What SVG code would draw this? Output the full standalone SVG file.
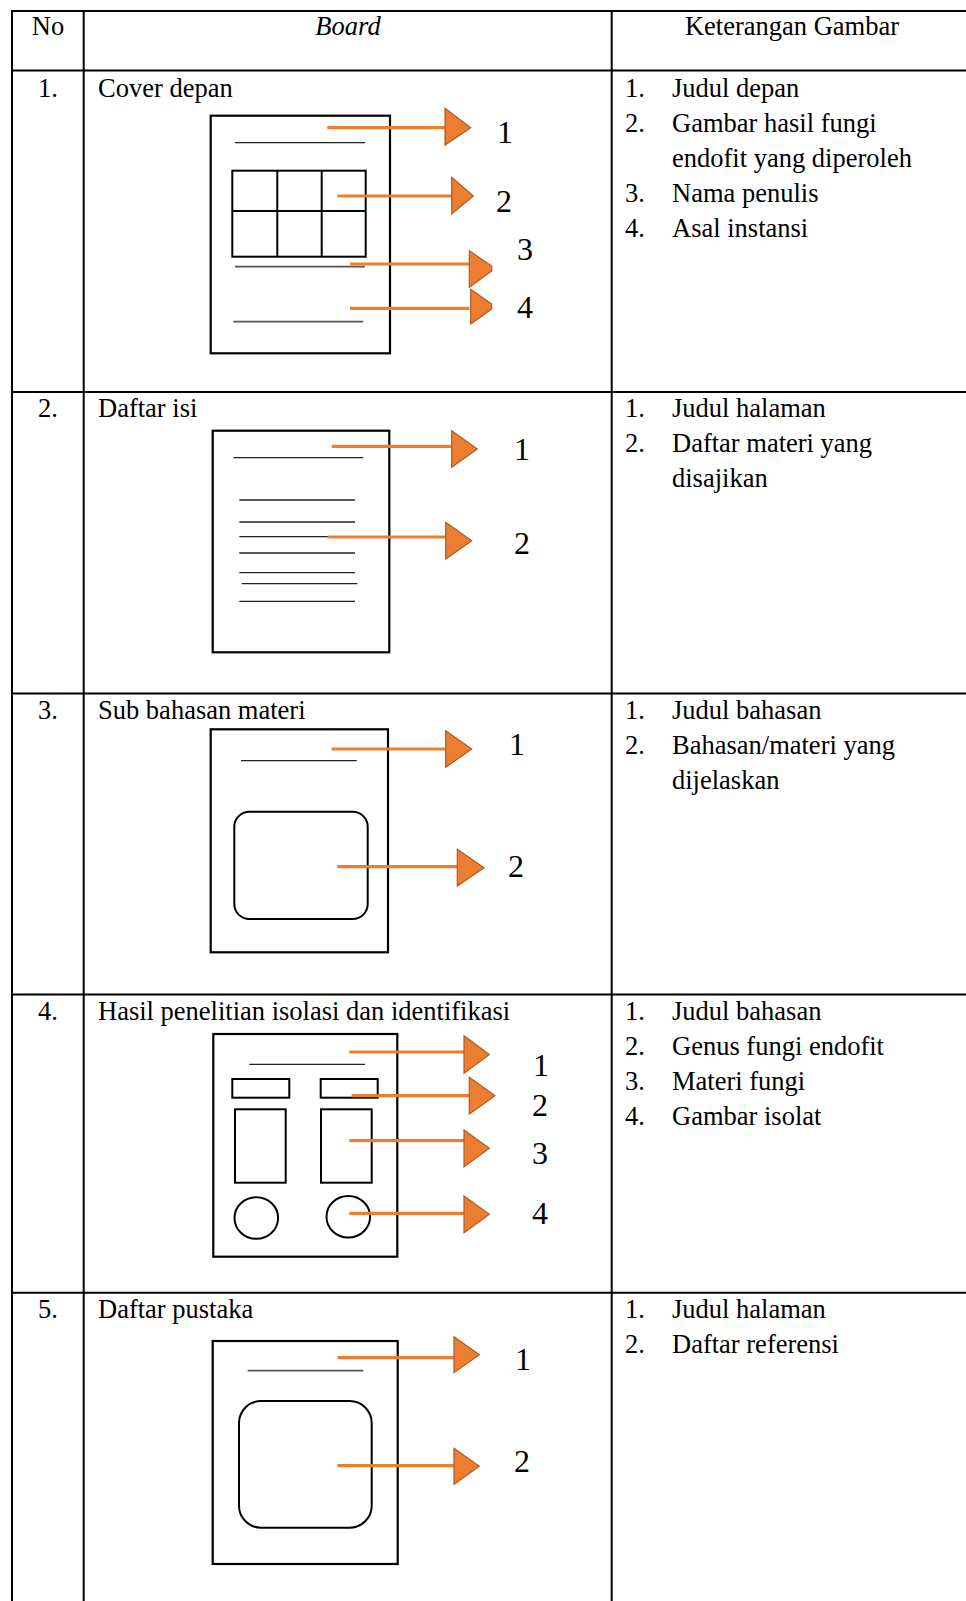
<svg xmlns="http://www.w3.org/2000/svg" width="966" height="1601" viewBox="0 0 966 1601">
  <style>
    .grid { stroke: #000; stroke-width: 2; fill: none; }
    .t { font-family: "Liberation Serif", "Times New Roman", serif; font-size: 26.5px; fill: #000; }
    .it { font-style: italic; }
    .num { font-family: "Liberation Serif", "Times New Roman", serif; font-size: 32px; fill: #000; }
    .page { fill: #fff; stroke: #000; stroke-width: 2.2; }
    .box { fill: none; stroke: #000; stroke-width: 2; }
    .rule { stroke: #222; stroke-width: 1.3; }
    .rule2 { stroke: #555; stroke-width: 1.8; }
    .shaft { stroke: #ED7D31; stroke-width: 3.2; }
    .head { fill: #ED7D31; stroke: #B05C22; stroke-width: 1.2; }
  </style>

  <rect width="966" height="1601" fill="#fff"/>

  <!-- table grid -->
  <g id="table">
    <line class="grid" x1="11" y1="11" x2="966" y2="11"/>
    <line class="grid" x1="11" y1="70.5" x2="966" y2="70.5"/>
    <line class="grid" x1="11" y1="392" x2="966" y2="392"/>
    <line class="grid" x1="11" y1="693.5" x2="966" y2="693.5"/>
    <line class="grid" x1="11" y1="994.5" x2="966" y2="994.5"/>
    <line class="grid" x1="11" y1="1292.7" x2="966" y2="1292.7"/>
    <line class="grid" x1="12" y1="10" x2="12" y2="1601"/>
    <line class="grid" x1="83.7" y1="10" x2="83.7" y2="1601"/>
    <line class="grid" x1="611.7" y1="10" x2="611.7" y2="1601"/>
  </g>

  <!-- header -->
  <g id="header">
    <text class="t" x="48" y="35" text-anchor="middle">No</text>
    <text class="t it" x="348" y="35" text-anchor="middle">Board</text>
    <text class="t" x="792" y="35" text-anchor="middle">Keterangan Gambar</text>
  </g>

  <!-- row 1: Cover depan -->
  <g id="row1">
    <text class="t" x="38" y="96.5">1.</text>
    <text class="t" x="98" y="96.5">Cover depan</text>
    <g class="t">
      <text x="625" y="96.5">1.</text><text x="672" y="96.5">Judul depan</text>
      <text x="625" y="131.7">2.</text><text x="672" y="131.7">Gambar hasil fungi</text>
      <text x="672" y="166.9">endofit yang diperoleh</text>
      <text x="625" y="202.1">3.</text><text x="672" y="202.1">Nama penulis</text>
      <text x="625" y="237.3">4.</text><text x="672" y="237.3">Asal instansi</text>
    </g>
  </g>
  <g id="board1">
    <rect class="page" x="210.7" y="115.7" width="179.3" height="237.6"/>
    <line class="rule" x1="235" y1="142.7" x2="365" y2="142.7"/>
    <rect class="box" x="232.3" y="170.7" width="133.4" height="86"/>
    <line class="box" x1="277.3" y1="170.7" x2="277.3" y2="256.7"/>
    <line class="box" x1="321.7" y1="170.7" x2="321.7" y2="256.7"/>
    <line class="box" x1="232.3" y1="211" x2="365.7" y2="211"/>
    <line class="rule2" x1="235" y1="266.7" x2="365" y2="266.7"/>
    <line class="rule2" x1="233.3" y1="321.7" x2="363.3" y2="321.7"/>
    <text class="num" x="497" y="143">1</text>
    <text class="num" x="496" y="211.5">2</text>
    <text class="num" x="517" y="260">3</text>
    <text class="num" x="517" y="318">4</text>
  </g>

  <!-- row 2: Daftar isi -->
  <g id="row2">
    <text class="t" x="38" y="417">2.</text>
    <text class="t" x="98" y="417">Daftar isi</text>
    <g class="t">
      <text x="625" y="417">1.</text><text x="672" y="417">Judul halaman</text>
      <text x="625" y="452.2">2.</text><text x="672" y="452.2">Daftar materi yang</text>
      <text x="672" y="487.4">disajikan</text>
    </g>
  </g>
  <g id="board2">
    <rect class="page" x="212.7" y="430.7" width="176.6" height="221.6"/>
    <line class="rule" x1="233.3" y1="457.7" x2="363.3" y2="457.7"/>
    <line class="rule" x1="239.3" y1="500" x2="355" y2="500"/>
    <line class="rule" x1="239.3" y1="522" x2="355" y2="522"/>
    <line class="rule" x1="239.3" y1="536.7" x2="355" y2="536.7"/>
    <line class="rule" x1="239.3" y1="553" x2="355" y2="553"/>
    <line class="rule" x1="239.3" y1="572.7" x2="355" y2="572.7"/>
    <line class="rule" x1="241.7" y1="583.7" x2="357.3" y2="583.7"/>
    <line class="rule" x1="239.3" y1="601.3" x2="355" y2="601.3"/>
    <text class="num" x="514" y="460">1</text>
    <text class="num" x="514" y="554.3">2</text>
  </g>

  <!-- row 3: Sub bahasan materi -->
  <g id="row3">
    <text class="t" x="38" y="718.5">3.</text>
    <text class="t" x="98" y="718.5">Sub bahasan materi</text>
    <g class="t">
      <text x="625" y="718.5">1.</text><text x="672" y="718.5">Judul bahasan</text>
      <text x="625" y="753.7">2.</text><text x="672" y="753.7">Bahasan/materi yang</text>
      <text x="672" y="788.9">dijelaskan</text>
    </g>
  </g>
  <g id="board3">
    <rect class="page" x="210.7" y="729.3" width="177.3" height="223"/>
    <line class="rule" x1="241" y1="760.7" x2="356.7" y2="760.7"/>
    <rect class="box" x="234.3" y="811.7" width="133.4" height="107.3" rx="15" ry="15"/>
    <text class="num" x="509" y="755">1</text>
    <text class="num" x="508" y="876.7">2</text>
  </g>

  <!-- row 4: Hasil penelitian isolasi dan identifikasi -->
  <g id="row4">
    <text class="t" x="38" y="1019.5">4.</text>
    <text class="t" x="98" y="1019.5">Hasil penelitian isolasi dan identifikasi</text>
    <g class="t">
      <text x="625" y="1019.5">1.</text><text x="672" y="1019.5">Judul bahasan</text>
      <text x="625" y="1054.7">2.</text><text x="672" y="1054.7">Genus fungi endofit</text>
      <text x="625" y="1089.9">3.</text><text x="672" y="1089.9">Materi fungi</text>
      <text x="625" y="1125.1">4.</text><text x="672" y="1125.1">Gambar isolat</text>
    </g>
  </g>
  <g id="board4">
    <rect class="page" x="213.3" y="1034" width="184" height="222.7"/>
    <line class="rule" x1="249.3" y1="1064.3" x2="365" y2="1064.3"/>
    <rect class="box" x="232.3" y="1079" width="57" height="18.7"/>
    <rect class="box" x="320.7" y="1079" width="57" height="18.7"/>
    <rect class="box" x="235" y="1109.3" width="50.7" height="73.4"/>
    <rect class="box" x="321" y="1109.3" width="50.7" height="73.4"/>
    <ellipse class="box" cx="256.3" cy="1218" rx="21.8" ry="20.8"/>
    <ellipse class="box" cx="348.3" cy="1216.7" rx="21.8" ry="20.8"/>
    <text class="num" x="533" y="1076">1</text>
    <text class="num" x="532" y="1116">2</text>
    <text class="num" x="532" y="1164">3</text>
    <text class="num" x="532" y="1224">4</text>
  </g>

  <!-- row 5: Daftar pustaka -->
  <g id="row5">
    <text class="t" x="38" y="1317.7">5.</text>
    <text class="t" x="98" y="1317.7">Daftar pustaka</text>
    <g class="t">
      <text x="625" y="1317.7">1.</text><text x="672" y="1317.7">Judul halaman</text>
      <text x="625" y="1352.9">2.</text><text x="672" y="1352.9">Daftar referensi</text>
    </g>
  </g>
  <g id="board5">
    <rect class="page" x="212.7" y="1341" width="185" height="223"/>
    <line class="rule2" x1="247.7" y1="1370.7" x2="363.3" y2="1370.7"/>
    <rect class="box" x="239" y="1401" width="132.7" height="126.7" rx="22" ry="22"/>
    <text class="num" x="515" y="1370">1</text>
    <text class="num" x="514" y="1471.7">2</text>
  </g>

  <!-- pointer arrows -->
  <g id="connectors">
    <line class="shaft" x1="327.3" y1="127.7" x2="446.7" y2="127.7"/>
    <polygon class="head" points="445,108.3 470.7,127.7 445,145"/>
    <line class="shaft" x1="337.3" y1="196" x2="451.7" y2="196"/>
    <polygon class="head" points="451.7,177.3 473.3,196 451.7,214"/>
    <line class="shaft" x1="350" y1="264" x2="470" y2="264"/>
    <polygon class="head" points="469.3,250.7 491.7,266 491.7,271 469.3,287.3"/>
    <line class="shaft" x1="350" y1="308.3" x2="469.3" y2="308.3"/>
    <polygon class="head" points="470.7,289.3 491.7,304 491.7,309 470.7,324"/>

    <line class="shaft" x1="331.7" y1="446.3" x2="451.7" y2="446.3"/>
    <polygon class="head" points="451.7,430.7 477.3,449 451.7,467.3"/>
    <line class="shaft" x1="327.7" y1="537" x2="446.7" y2="537"/>
    <polygon class="head" points="445.7,522.3 471.7,540.7 445.7,559"/>

    <line class="shaft" x1="331.7" y1="749" x2="446.7" y2="749"/>
    <polygon class="head" points="445.7,730.7 471.7,749 445.7,767.3"/>
    <line class="shaft" x1="337.3" y1="866.7" x2="458.3" y2="866.7"/>
    <polygon class="head" points="457.3,849.3 484,867.7 457.3,886"/>

    <line class="shaft" x1="349.3" y1="1052" x2="465" y2="1052"/>
    <polygon class="head" points="464,1035.7 489.3,1054.5 464,1073.3"/>
    <line class="shaft" x1="351.7" y1="1095.7" x2="470" y2="1095.7"/>
    <polygon class="head" points="469.3,1077.3 495,1095.7 469.3,1114"/>
    <line class="shaft" x1="349.3" y1="1140.7" x2="465" y2="1140.7"/>
    <polygon class="head" points="464,1130 489.3,1148.3 464,1166.7"/>
    <line class="shaft" x1="349.3" y1="1213.3" x2="465" y2="1213.3"/>
    <polygon class="head" points="464,1196 489.3,1214.3 464,1232.7"/>

    <line class="shaft" x1="337.7" y1="1357.7" x2="455" y2="1357.7"/>
    <polygon class="head" points="454,1336.7 479.3,1354.7 454,1372.7"/>
    <line class="shaft" x1="337.7" y1="1465.7" x2="455" y2="1465.7"/>
    <polygon class="head" points="454,1448.3 479.3,1466.3 454,1484.3"/>
  </g>
</svg>
